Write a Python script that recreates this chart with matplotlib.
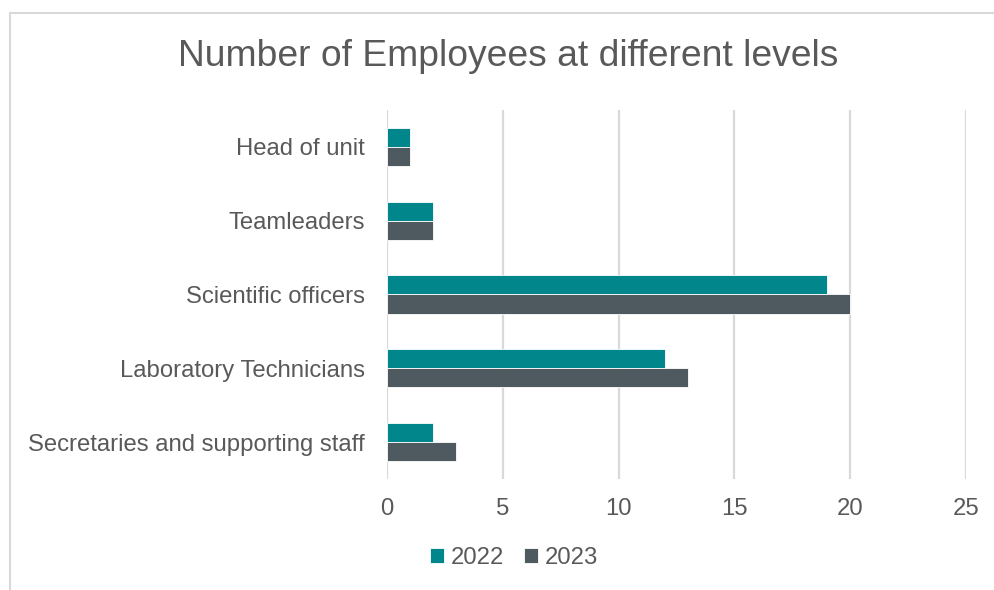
import numpy as np
import matplotlib.pyplot as plt
from matplotlib.patches import Rectangle

plt.rcParams['font.family'] = ['Liberation Sans', 'DejaVu Sans']

# 数据
categories = ["Head of unit", "Teamleaders", "Scientific officers",
              "Laboratory Technicians", "Secretaries and supporting staff"]
values_2022 = [1, 2, 19, 12, 2]
values_2023 = [1, 2, 20, 13, 3]
series_labels = ["2022", "2023"]
x_ticks = [0, 5, 10, 15, 20, 25]

text_color = "#595959"
c2022 = "#00868B"
c2023 = "#4F5A60"
fs = 17.2

fig = plt.figure(figsize=(9.95, 5.9), dpi=100)
ax = fig.add_axes([387 / 995, 1 - 479 / 590, (966 - 387) / 995, (479 - 110) / 590])

y = np.arange(len(categories))
h = 0.26
ax.barh(y - h / 2, values_2022, height=h, color=c2022, edgecolor="white",
        linewidth=0.6, label=series_labels[0], zorder=3)
ax.barh(y + h / 2, values_2023, height=h, color=c2023, edgecolor="white",
        linewidth=0.6, label=series_labels[1], zorder=3)

ax.set_ylim(len(categories) - 0.5, -0.5)
ax.set_xlim(0, 25)
ax.set_xticks(x_ticks)
ax.set_yticks(y)
ax.set_yticklabels(categories)
ax.tick_params(axis="both", length=0, labelsize=fs, colors=text_color)
ax.tick_params(axis="x", pad=14)
ax.tick_params(axis="y", pad=16)

ax.grid(axis="x", color="#D9D9D9", linewidth=1.6, zorder=0)
for s in ax.spines.values():
    s.set_visible(False)

fig.text(508 / 995, 1 - 57 / 590, "Number of Employees at different levels",
         ha="center", va="center", fontsize=26.8, color=text_color)

leg = ax.legend(loc="center", bbox_to_anchor=(514 / 995, 1 - 558 / 590),
                bbox_transform=fig.transFigure, ncol=2, frameon=False,
                fontsize=fs, handlelength=0.6, handleheight=0.6,
                handletextpad=0.3, columnspacing=0.8, labelcolor=text_color)

# 外框
fig.patches.append(Rectangle((10 / 995, -0.05), 1.05, 1 - 13 / 590 + 0.05,
                             transform=fig.transFigure, fill=False,
                             edgecolor="#D9D9D9", linewidth=1.5))

fig.savefig("out.png", dpi=100)
